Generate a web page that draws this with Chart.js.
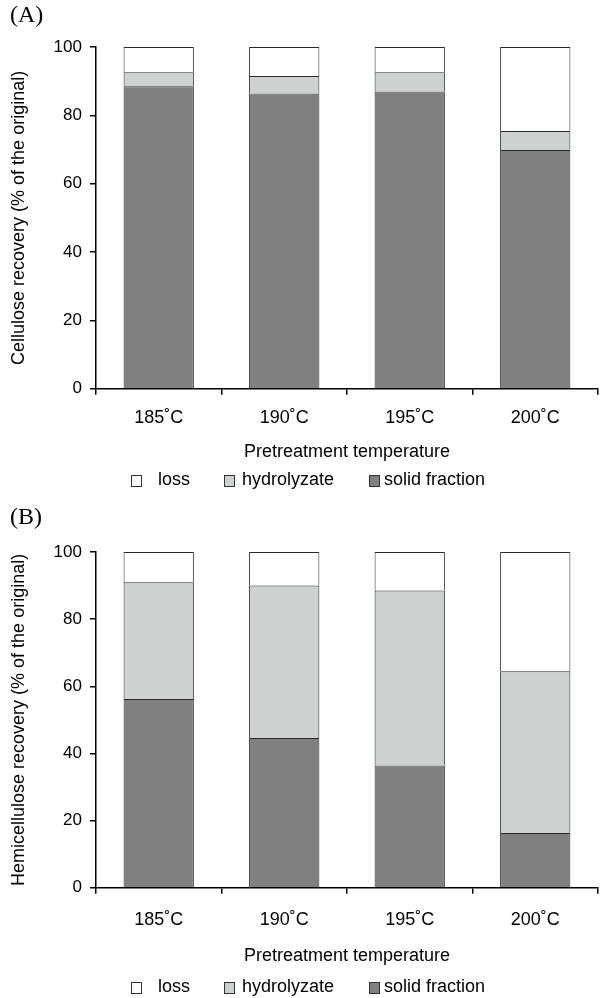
<!DOCTYPE html>
<html>
<head>
<meta charset="utf-8">
<script src="https://cdn.jsdelivr.net/npm/chart.js@4.4.1/dist/chart.umd.min.js"></script>
<style>
  html, body { margin: 0; padding: 0; background: #fff; }
  body { width: 601px; height: 998px; position: relative; overflow: hidden; }
  .panel { position: absolute; left: 0; width: 601px; }
  .tag { position: absolute; left: 10px; font-family: "Liberation Serif", "Times New Roman", serif; font-size: 24px; color: #000; }
</style>
</head>
<body>
<div class="panel" style="top:0;height:500px;"><canvas id="chartA"></canvas></div>
<div class="panel" style="top:500px;height:498px;"><canvas id="chartB"></canvas></div>
<div class="tag" style="top:1px;">(A)</div>
<div class="tag" style="top:503px;">(B)</div>
<script>
// temperatures on the x axis
const temps = ['185˚C', '190˚C', '195˚C', '200˚C'];
const yTicks = [0, 20, 40, 60, 80, 100];

// (A) cellulose recovery, % of the original
const celluloseSolid = [88.5, 86.4, 87.0, 69.9];
const celluloseHydro = [4.1, 5.1, 5.6, 5.5];
const celluloseLoss = [7.4, 8.5, 7.4, 24.6];

// (B) hemicellulose recovery, % of the original
const hemiSolid = [56.2, 44.6, 36.4, 16.3];
const hemiHydro = [34.8, 45.4, 52.1, 48.2];
const hemiLoss = [9.0, 10.0, 11.5, 35.5];

const FONT = '"Liberation Sans", Arial, Helvetica, sans-serif';

// legend drawn under the axis title: loss, hydrolyzate, solid fraction
const bottomLegend = {
    id: 'bottomLegend',
    afterDraw(chart, args, opts) {
        const ctx = chart.ctx;
        const items = chart.data.datasets.slice().reverse();
        ctx.save();
        ctx.font = '18px ' + FONT;
        ctx.textBaseline = 'middle';
        items.forEach((ds, i) => {
            const x = opts.xs[i];
            ctx.fillStyle = ds.backgroundColor;
            ctx.fillRect(x, opts.y - 5, 10, 11);
            ctx.strokeStyle = '#333';
            ctx.lineWidth = 1;
            ctx.strokeRect(x + 0.5, opts.y - 4.5, 10, 11);
            ctx.fillStyle = '#000';
            ctx.fillText(ds.label, x + opts.gaps[i], opts.y);
        });
        ctx.restore();
    }
};

function makeChart(id, yTitle, solid, hydro, loss, pad, xPad, legendY) {
    const ctx = document.getElementById(id).getContext('2d');
    return new Chart(ctx, {
        type: 'bar',
        data: {
            labels: temps,
            datasets: [
                { label: 'solid fraction', data: solid, backgroundColor: '#808080', borderColor: '#2a2a2a', borderWidth: 1 },
                { label: 'hydrolyzate', data: hydro, backgroundColor: '#cfd1d0', borderColor: '#2a2a2a', borderWidth: 1 },
                { label: 'loss', data: loss, backgroundColor: '#ffffff', borderColor: '#2a2a2a', borderWidth: 1 }
            ]
        },
        plugins: [bottomLegend],
        options: {
            responsive: true,
            maintainAspectRatio: false,
            animation: false,
            layout: { padding: pad },
            datasets: { bar: { categoryPercentage: 1, barPercentage: 0.56 } },
            plugins: {
                tooltip: { enabled: false },
                legend: { display: false },
                bottomLegend: { y: legendY, xs: [131, 224, 369], gaps: [27, 18, 15] }
            },
            scales: {
                x: {
                    stacked: true,
                    grid: { display: true, drawOnChartArea: false, offset: true, tickLength: 6, color: '#000', lineWidth: 1.5 },
                    border: { color: '#000', width: 1.5 },
                    ticks: { color: '#000', font: { family: FONT, size: 18 }, padding: xPad[0] },
                    title: { display: true, text: 'Pretreatment temperature', color: '#000', font: { family: FONT, size: 18 }, padding: { top: xPad[1], bottom: 0 } }
                },
                y: {
                    stacked: true,
                    min: 0,
                    max: 100,
                    afterBuildTicks: (axis) => { axis.ticks = yTicks.map(v => ({ value: v })); },
                    grid: { display: true, drawOnChartArea: false, tickLength: 6, color: '#000', lineWidth: 1.5 },
                    border: { color: '#000', width: 1.5 },
                    ticks: { color: '#000', font: { family: FONT, size: 17 }, padding: 8 },
                    title: { display: true, text: yTitle, color: '#000', font: { family: FONT, size: 18 }, padding: { top: 0, bottom: 16 } }
                }
            }
        }
    });
}

makeChart('chartA', 'Cellulose recovery (% of the original)', celluloseSolid, celluloseHydro, celluloseLoss,
    { top: 47, left: 8, right: 3, bottom: 37 }, [12, 1], 480);
makeChart('chartB', 'Hemicellulose recovery (% of the original)', hemiSolid, hemiHydro, hemiLoss,
    { top: 52, left: 8, right: 3, bottom: 31 }, [15, 0], 487);
</script>
</body>
</html>
